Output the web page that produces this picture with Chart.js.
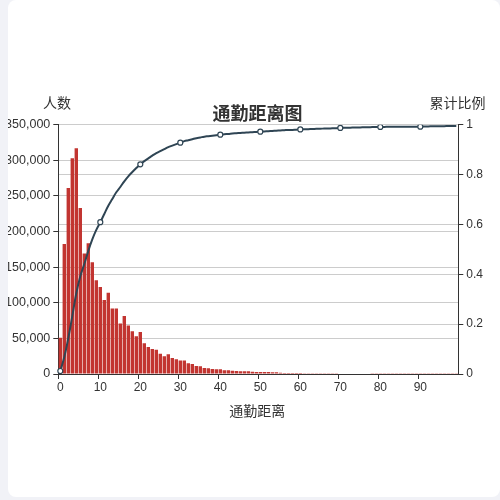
<!DOCTYPE html>
<html>
<head>
<meta charset="utf-8">
<script src="https://cdn.jsdelivr.net/npm/chart.js@4.4.1/dist/chart.umd.min.js"></script>
<style>
  html, body { margin: 0; padding: 0; width: 500px; height: 500px; background: #f1f2f7; overflow: hidden; }
  #card { position: absolute; left: 8px; top: 0; width: 492px; height: 497px; background: #fff; border-radius: 8px; overflow: hidden; }
  #c { display: block; }
</style>
</head>
<body>
<div id="card"><canvas id="c" width="492" height="497"></canvas></div>
<script>
const chartTitle = '通勤距离图';
const xName = '通勤距离';
const yLeftName = '人数';
const yRightName = '累计比例';

const distances = [];
for (let i = 0; i < 100; i++) distances.push(String(i));

const people = [
  51000, 182500, 261000, 303000, 317000, 233000, 169000, 183500, 157000, 131500,
  122000, 104000, 114000, 92000, 92000, 71000, 81400, 68000, 60000, 53000,
  59000, 43000, 38000, 35000, 34000, 28500, 25000, 27600, 22500, 20600,
  19000, 19000, 15000, 14000, 11200, 11000, 8400, 8000, 7000, 6600,
  6600, 5200, 5200, 4700, 4200, 3800, 3700, 3700, 3000, 2800,
  2800, 2800, 2800, 2400, 2400, 1900, 1500, 1400, 1400, 1400,
  1300, 1200, 1200, 1100, 1100, 1000, 1000, 900, 900, 900,
  800, 800, 700, 700, 700, 600, 600, 600, 500, 500,
  500, 500, 400, 400, 400, 400, 300, 300, 300, 300,
  300, 300, 200, 200, 200, 200, 200, 200, 200, 200
];

const cumulative = [
  0.012, 0.068, 0.144, 0.232, 0.324, 0.392, 0.441, 0.494, 0.540, 0.578,
  0.609, 0.642, 0.675, 0.702, 0.729, 0.750, 0.773, 0.793, 0.810, 0.826,
  0.841, 0.854, 0.865, 0.876, 0.886, 0.894, 0.902, 0.910, 0.916, 0.922,
  0.928, 0.934, 0.938, 0.942, 0.946, 0.949, 0.952, 0.954, 0.956, 0.958,
  0.960, 0.962, 0.963, 0.965, 0.966, 0.967, 0.968, 0.969, 0.970, 0.971,
  0.972, 0.973, 0.974, 0.975, 0.976, 0.977, 0.978, 0.979, 0.979, 0.980,
  0.981, 0.9816, 0.9822, 0.9828, 0.9834, 0.984, 0.9845, 0.985, 0.9855, 0.986,
  0.987, 0.9875, 0.988, 0.9884, 0.9888, 0.9892, 0.9896, 0.990, 0.9903, 0.9906,
  0.991, 0.9912, 0.9914, 0.9916, 0.9917, 0.9918, 0.9919, 0.992, 0.992, 0.992,
  0.9922, 0.993, 0.9932, 0.9935, 0.9938, 0.994, 0.9942, 0.9945, 0.9948, 0.995
];

const FONT = '"Liberation Sans", "Noto Sans CJK SC", sans-serif';
const CJK = '"Noto Sans CJK SC", "Liberation Sans", sans-serif';
const axisDark = '#333';
const gridGray = '#cccccc';

const textPlugin = {
  id: 'texts',
  afterDraw(chart) {
    const ctx = chart.ctx;
    ctx.save();
    ctx.fillStyle = '#333';
    ctx.textAlign = 'center';
    ctx.textBaseline = 'middle';
    ctx.font = 'bold 18px ' + CJK;
    ctx.fillText(chartTitle, 249.5, 113);
    ctx.font = '14px ' + CJK;
    ctx.fillText(yLeftName, 49, 103);
    ctx.fillText(yRightName, 449.5, 103);
    ctx.fillText(xName, 249.3, 411);
    ctx.restore();
  }
};

new Chart(document.getElementById('c'), {
  data: {
    labels: distances,
    datasets: [
      {
        type: 'line',
        label: yRightName,
        data: cumulative,
        yAxisID: 'y1',
        borderColor: '#2f4554',
        borderWidth: 2,
        tension: 0.4,
        pointRadius: (ctx) => (ctx.dataIndex % 10 === 0 ? 2.5 : 0),
        pointBackgroundColor: '#ffffff',
        pointBorderColor: '#2f4554',
        pointBorderWidth: 1.2,
        order: 0
      },
      {
        type: 'bar',
        label: yLeftName,
        data: people,
        yAxisID: 'y',
        backgroundColor: '#c23531',
        categoryPercentage: 1.0,
        barPercentage: 0.85,
        order: 1
      }
    ]
  },
  options: {
    responsive: false,
    animation: false,
    devicePixelRatio: 1,
    layout: { padding: { left: 0, right: 0, top: 124.7, bottom: 0 } },
    plugins: { legend: { display: false }, title: { display: false }, tooltip: { enabled: false } },
    scales: {
      x: {
        type: 'category',
        offset: true,
        afterFit(s) { s.height = 123; },
        grid: {
          offset: true,
          drawOnChartArea: false,
          drawTicks: true,
          tickLength: 5,
          tickColor: (ctx) => (ctx.index % 10 === 0 && ctx.index < 100 ? axisDark : 'rgba(0,0,0,0)'),
          color: 'rgba(0,0,0,0)'
        },
        border: { display: true, color: axisDark, width: 1 },
        ticks: {
          autoSkip: false,
          maxRotation: 0,
          minRotation: 0,
          padding: 1,
          color: axisDark,
          font: { family: FONT, size: 12 },
          callback: function (val, idx) { return idx % 10 === 0 ? this.getLabelForValue(val) : ''; }
        }
      },
      y: {
        position: 'left',
        min: 0,
        max: 350000,
        afterFit(s) { s.width = 50.3; },
        grid: {
          color: (ctx) => (ctx.tick && ctx.tick.value === 0 ? 'rgba(0,0,0,0)' : gridGray),
          tickColor: axisDark,
          tickLength: 5,
          lineWidth: 1
        },
        border: { display: true, color: axisDark, width: 1 },
        ticks: {
          stepSize: 50000,
          padding: 3,
          color: axisDark,
          font: { family: FONT, size: 12.5 },
          callback: (v) => v.toLocaleString('en-US')
        }
      },
      y1: {
        position: 'right',
        min: 0,
        max: 1,
        afterFit(s) { s.width = 41.7; },
        grid: {
          color: (ctx) => (ctx.tick && ctx.tick.value === 0 ? 'rgba(0,0,0,0)' : gridGray),
          tickColor: axisDark,
          tickLength: 5,
          lineWidth: 1
        },
        border: { display: true, color: axisDark, width: 1 },
        ticks: {
          stepSize: 0.2,
          padding: 3,
          color: axisDark,
          font: { family: FONT, size: 12 },
          callback: (v) => String(Math.round(v * 10) / 10)
        }
      }
    }
  },
  plugins: [textPlugin]
});
</script>
</body>
</html>
